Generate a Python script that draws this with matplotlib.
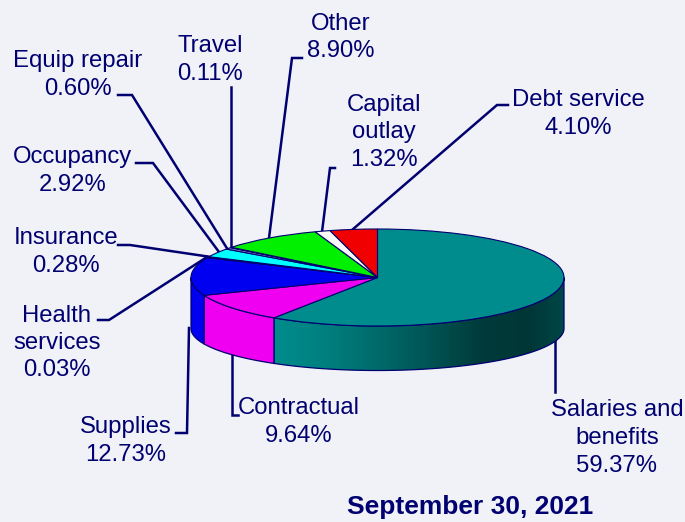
import numpy as np
import matplotlib
matplotlib.use("Agg")
import matplotlib.pyplot as plt
from matplotlib.colors import LinearSegmentedColormap
from matplotlib.patches import Polygon

plt.rcParams["font.family"] = ["Liberation Sans", "DejaVu Sans"]

W, H = 685, 522
BG = "#f1f2f7"
NAVY = "#000070"

names = ["Salaries and\nbenefits", "Contractual", "Supplies", "Health\nservices",
         "Insurance", "Occupancy", "Equip repair", "Travel", "Other",
         "Capital\noutlay", "Debt service"]
values = [59.37, 9.64, 12.73, 0.03, 0.28, 2.92, 0.60, 0.11, 8.90, 1.32, 4.10]
colors = ["#008c8c", "#f000f0", "#0000f0", "#00a0a0", "#f000f0", "#00ffff",
          "#8080c0", "#f0f0f0", "#00f000", "#f8f8f8", "#f00000"]
title = "September 30, 2021"

# pie geometry in pixels, the bottom edge is a flatter ellipse than the top
cx, cy, rx, ry, depth, ry_low = 377.5, 277.5, 186.5, 48.5, 51, 42

# label centre + first line y, then leader line
layout = [
    (617, 410.5, [(555, 334), (555, 392)]),
    (298.5, 408.5, [(232, 352), (232, 415), (238, 415)]),
    (126, 427.5, [(189, 328), (187, 433), (176, 433)]),
    (57, 315.5, [(207, 257), (109, 320), (98, 320)]),
    (66, 238.5, [(211, 257), (130, 245), (118, 245)]),
    (72.5, 157.5, [(219, 252), (153, 163), (136, 163)]),
    (78, 61.5, [(228, 250), (132, 95), (118, 95)]),
    (210, 46.5, [(231, 248), (231, 87)]),
    (341, 23.5, [(269, 238), (292, 58), (302, 58)]),
    (384, 104.5, [(322, 232), (330, 168), (335, 168)]),
    (578.5, 100.5, [(352, 230), (497, 105), (508, 105)]),
]

fig = plt.figure(figsize=(W / 100, H / 100), dpi=100, facecolor=BG)
ax = fig.add_axes([0, 0, 1, 1])
ax.set_xlim(0, W)
ax.set_ylim(H, 0)
ax.axis("off")

# leader lines and labels
for name, value, (lx, ly, pts) in zip(names, values, layout):
    xs, ys = zip(*pts)
    ax.plot(xs, ys, color=NAVY, lw=1.8, solid_joinstyle="miter", zorder=1)
    lines = name.split("\n") + [f"{value:.2f}%"]
    for i, line in enumerate(lines):
        ax.text(lx, ly + i * 27.5, line, ha="center", va="center",
                fontsize=17.2, color=NAVY, zorder=5)

ax.text(470.5, 507, title, ha="center", va="center", fontsize=19,
        fontweight="bold", color=NAVY)


def rim(f0, f1, n=80):
    # fractions clockwise from the top, returns x, top edge y, bottom edge y
    t = 2 * np.pi * np.linspace(f0, f1, n)
    return (cx + rx * np.sin(t), cy - ry * np.cos(t),
            cy + depth - ry_low * np.cos(t))


# side wall, only the front half shows
cum = np.concatenate([[0], np.cumsum(values) / np.sum(values)])
teal_grad = LinearSegmentedColormap.from_list(
    "teal_wall",
    [(0.0, "#008c8c"), (0.18, "#007f7f"), (0.47, "#005c5c"), (0.72, "#003a3a"),
     (0.88, "#003636"), (1.0, "#004848")],
)
for i in range(len(values)):
    f0, f1 = max(cum[i], 0.25), min(cum[i + 1], 0.75)
    if f1 <= f0:
        continue
    x, y_top, y_low = rim(f0, f1)
    verts = np.r_[np.c_[x, y_top], np.c_[x[::-1], y_low[::-1]]]
    if i == 0:
        poly = Polygon(verts, closed=True, fc="none", ec="none")
        ax.add_patch(poly)
        grad = np.linspace(0, 1, 256)[None, :]
        im = ax.imshow(grad, cmap=teal_grad, aspect="auto", zorder=2,
                       extent=(x.min(), x.max(), cy + ry + depth, cy))
        im.set_clip_path(poly)
        ax.set_xlim(0, W)
        ax.set_ylim(H, 0)
        ax.add_patch(Polygon(verts, closed=True, fc="none", ec=NAVY, lw=0.9, zorder=3))
    else:
        ax.add_patch(Polygon(verts, closed=True, fc=colors[i], ec=NAVY, lw=0.9, zorder=3))

# top face: pie stretched to the ellipse box
pie_ax = fig.add_axes([(cx - rx) / W, 1 - (cy + ry) / H, 2 * rx / W, 2 * ry / H])
pie_ax.pie(values, colors=colors, startangle=90, counterclock=False, radius=1,
           wedgeprops={"edgecolor": NAVY, "linewidth": 0.8})
pie_ax.set_aspect("auto")
pie_ax.set_xlim(-1, 1)
pie_ax.set_ylim(-1, 1)
pie_ax.patch.set_alpha(0)
pie_ax.axis("off")
for w in pie_ax.patches:
    w.set_clip_on(False)

fig.savefig("out.png", dpi=100, facecolor=BG)
